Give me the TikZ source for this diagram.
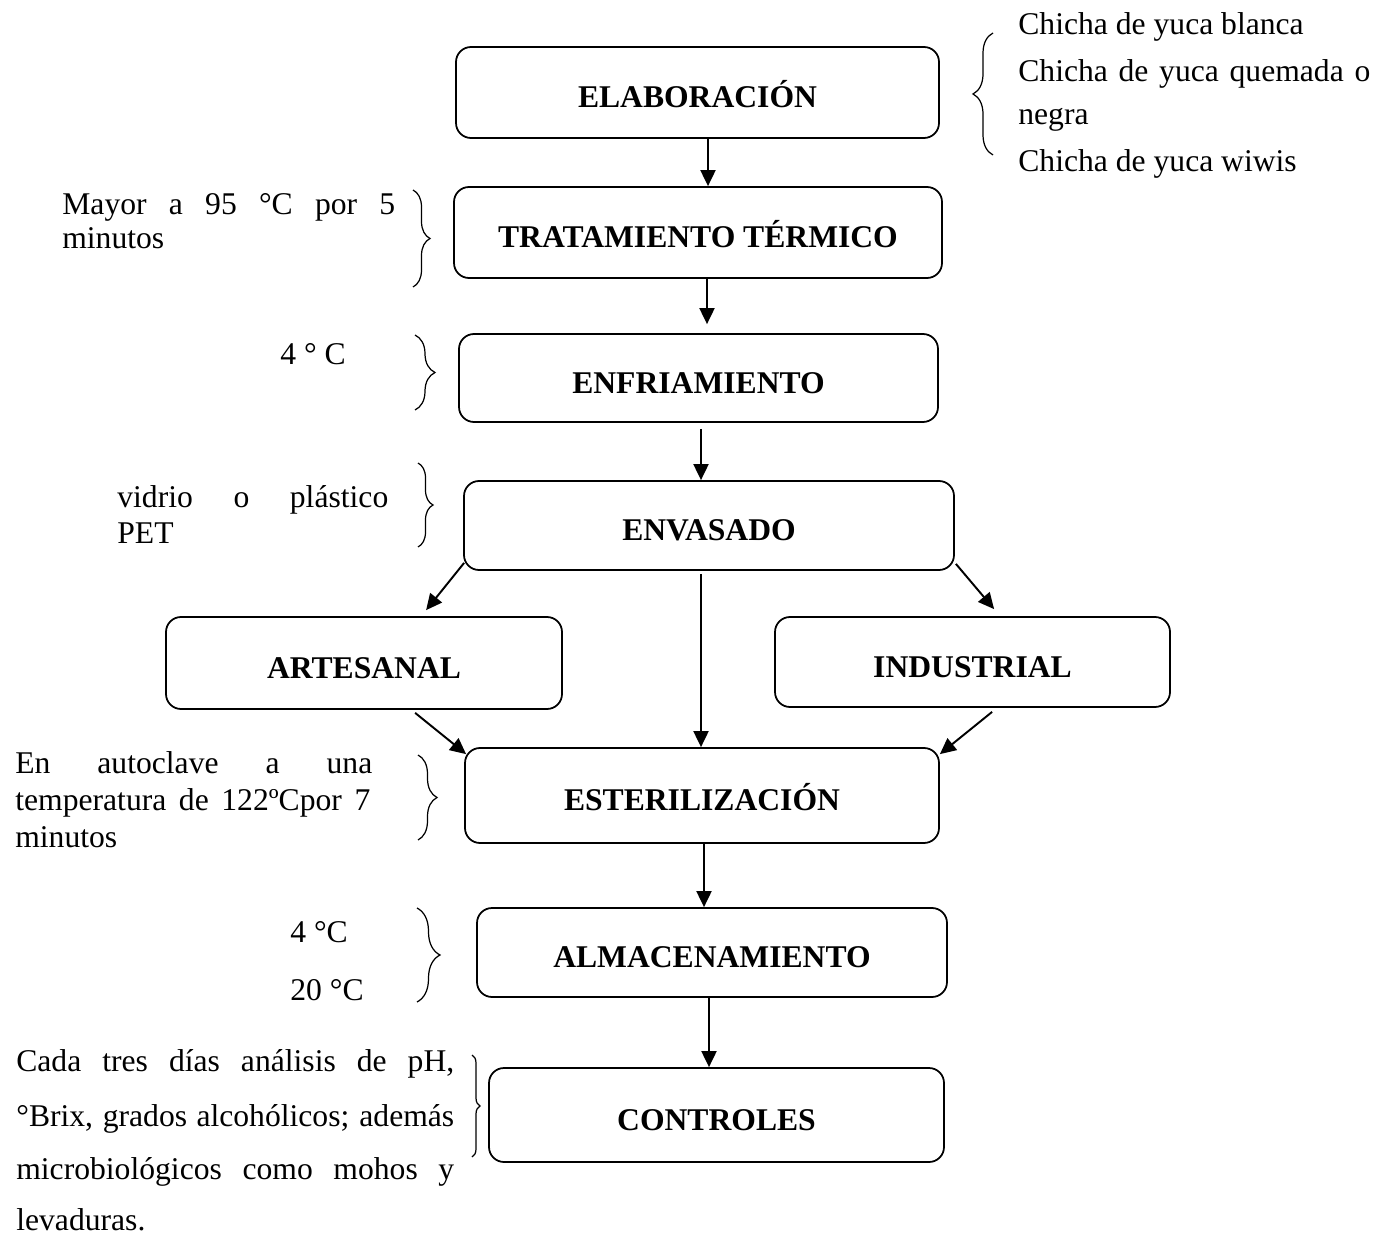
\documentclass[tikz,border=0pt]{standalone}
\usepackage{fontspec}
\setmainfont{Liberation Serif}
\usetikzlibrary{arrows.meta,calc,decorations.pathreplacing}

\tikzset{
  stepbox/.style={draw, line width=1pt, rounded corners=0.3cm, inner sep=0pt,
    text height=17.6pt, text depth=0pt, align=center,
    font=\fontsize{18}{21}\selectfont\bfseries},
  flow/.style={line width=1.1pt, -{Triangle[length=0.32cm,width=0.3cm]}},
  note/.style={inner sep=0pt, anchor=base west, font=\fontsize{18}{21}\selectfont},
  bracket/.style={decorate, decoration={brace, amplitude=#1}, line width=0.7pt},
}

% stage box given by its corners (x1,y1) and (x2,y2)
\newcommand\stagebox[6]{%
  \node[stepbox, minimum width={(#4-#2)*0.02cm}, minimum height={(#5-#3)*0.02cm}]
    (#1) at ({(#2+#4)/2},{(#3+#5)/2}) {#6};}

\begin{document}
\begin{tikzpicture}[x=0.02cm, y=-0.02cm]
\useasboundingbox (0,0) rectangle (1375,1236);

% process stages
\stagebox{elab}{456}{47}{939}{138}{ELABORACIÓN}
\stagebox{trat}{454}{187}{942}{278}{TRATAMIENTO TÉRMICO}
\stagebox{enf}{459}{334}{938}{422}{ENFRIAMIENTO}
\stagebox{env}{464}{481}{954}{570}{ENVASADO}
\stagebox{art}{166}{617}{562}{709}{ARTESANAL}
\stagebox{ind}{775}{617}{1170}{707}{INDUSTRIAL}
\stagebox{est}{465}{748}{939}{843}{ESTERILIZACIÓN}
\stagebox{alm}{477}{908}{947}{997}{ALMACENAMIENTO}
\stagebox{ctrl}{489}{1068}{944}{1162}{CONTROLES}

% main flow
\draw[flow] (elab.south -| 708,0) -- (trat.north -| 708,0);
\draw[flow, shorten >=0.18cm] (trat.south -| 707,0) -- (enf.north -| 707,0);
\draw[flow, shorten <=0.12cm] (enf.south -| 701,0) -- (env.north -| 701,0);
\draw[flow, shorten <=0.06cm] (env.south -| 701,0) -- (est.north -| 701,0);
\draw[flow] (est.south -| 704,0) -- (alm.north -| 704,0);
\draw[flow] (alm.south -| 709,0) -- (ctrl.north -| 709,0);

% branches through the two packaging routes
\draw[flow] ($(env.south west)+(1,-8)$) -- ($(art.north west)+(261,-6)$);
\draw[flow] ($(env.south east)+(1,-7)$) -- ($(ind.north west)+(220,-7)$);
\draw[flow] ($(art.south west)+(250,3)$) -- ($(est.north west)+(2,7)$);
\draw[flow] ($(ind.south west)+(218,4)$) -- ($(est.north east)+(0,7)$);

% braces
\draw[bracket=0.4cm] (993,155) -- (993,33);
\draw[bracket=0.34cm] (413,190) -- (413,287);
\draw[bracket=0.4cm] (415,335) -- (415,410);
\draw[bracket=0.3cm] (418,463) -- (418,547);
\draw[bracket=0.38cm] (418,755) -- (418,840);
\draw[bracket=0.46cm] (417,908) -- (417,1002);
\draw[bracket=0.16cm] (472,1055) -- (472,1157);

% notes
\node[note] (tr1) at (1018,35) {Chicha de yuca blanca};
\node[note] (tr2) at (1018,82) {\makebox[7.04cm][s]{Chicha de yuca quemada o}};
\node[note] (tr3) at (1018,125) {negra};
\node[note] (tr4) at (1018,172) {Chicha de yuca wiwis};

\node[note] (ma1) at (62,215) {\makebox[6.66cm][s]{Mayor a 95 °C por 5}};
\node[note] (ma2) at (62,249) {minutos};

\node[note] (en1) at (280,365) {4 ° C};

\node[note] (vi1) at (117,507) {\makebox[5.42cm][s]{vidrio o plástico}};
\node[note] (vi2) at (117,543) {PET};

\node[note] (au1) at (15,773) {\makebox[7.14cm][s]{En autoclave a una}};
\node[note] (au2) at (15,810) {\makebox[7.1cm][s]{temperatura de 122ºCpor 7}};
\node[note] (au3) at (15,847) {minutos};

\node[note] (al1) at (290,942) {4 °C};
\node[note] (al2) at (290,1000) {20 °C};

\node[note] (co1) at (16,1071) {\makebox[8.76cm][s]{Cada tres días análisis de pH,}};
\node[note] (co2) at (16,1126) {\makebox[8.76cm][s]{°Brix, grados alcohólicos; además}};
\node[note] (co3) at (16,1179) {\makebox[8.76cm][s]{microbiológicos como mohos y}};
\node[note] (co4) at (16,1230) {levaduras.};
\end{tikzpicture}
\end{document}
